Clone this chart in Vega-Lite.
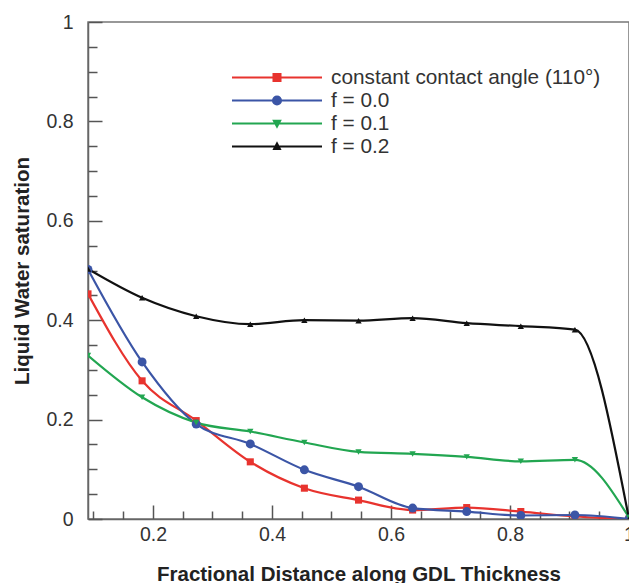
{
  "$schema": "https://vega.github.io/schema/vega-lite/v6.json",
  "width": 541,
  "height": 497,
  "autosize": "none",
  "padding": {"left": 88, "top": 22, "right": 0, "bottom": 64},
  "background": "white",
  "config": {
    "view": {"stroke": "#777", "strokeWidth": 1.5},
    "font": "Liberation Sans",
    "axis": {"grid": false}
  },
  "data": {
    "values": [
      {"x": 0.0909, "s": 0.453, "series": "constant contact angle (110°)"},
      {"x": 0.1818, "s": 0.278, "series": "constant contact angle (110°)"},
      {"x": 0.2727, "s": 0.198, "series": "constant contact angle (110°)"},
      {"x": 0.3636, "s": 0.115, "series": "constant contact angle (110°)"},
      {"x": 0.4545, "s": 0.062, "series": "constant contact angle (110°)"},
      {"x": 0.5455, "s": 0.038, "series": "constant contact angle (110°)"},
      {"x": 0.6364, "s": 0.018, "series": "constant contact angle (110°)"},
      {"x": 0.7273, "s": 0.023, "series": "constant contact angle (110°)"},
      {"x": 0.8182, "s": 0.015, "series": "constant contact angle (110°)"},
      {"x": 0.9091, "s": 0.005, "series": "constant contact angle (110°)"},
      {"x": 1.0, "s": 0.0, "series": "constant contact angle (110°)"},
      {"x": 0.0909, "s": 0.502, "series": "f = 0.0"},
      {"x": 0.1818, "s": 0.316, "series": "f = 0.0"},
      {"x": 0.2727, "s": 0.191, "series": "f = 0.0"},
      {"x": 0.3636, "s": 0.151, "series": "f = 0.0"},
      {"x": 0.4545, "s": 0.099, "series": "f = 0.0"},
      {"x": 0.5455, "s": 0.065, "series": "f = 0.0"},
      {"x": 0.6364, "s": 0.022, "series": "f = 0.0"},
      {"x": 0.7273, "s": 0.015, "series": "f = 0.0"},
      {"x": 0.8182, "s": 0.007, "series": "f = 0.0"},
      {"x": 0.9091, "s": 0.008, "series": "f = 0.0"},
      {"x": 1.0, "s": 0.0, "series": "f = 0.0"},
      {"x": 0.0909, "s": 0.329, "series": "f = 0.1"},
      {"x": 0.1818, "s": 0.245, "series": "f = 0.1"},
      {"x": 0.2727, "s": 0.194, "series": "f = 0.1"},
      {"x": 0.3636, "s": 0.176, "series": "f = 0.1"},
      {"x": 0.4545, "s": 0.154, "series": "f = 0.1"},
      {"x": 0.5455, "s": 0.135, "series": "f = 0.1"},
      {"x": 0.6364, "s": 0.131, "series": "f = 0.1"},
      {"x": 0.7273, "s": 0.125, "series": "f = 0.1"},
      {"x": 0.8182, "s": 0.116, "series": "f = 0.1"},
      {"x": 0.9091, "s": 0.119, "series": "f = 0.1"},
      {"x": 1.0, "s": 0.003, "series": "f = 0.1"},
      {"x": 0.0909, "s": 0.503, "series": "f = 0.2"},
      {"x": 0.1818, "s": 0.445, "series": "f = 0.2"},
      {"x": 0.2727, "s": 0.408, "series": "f = 0.2"},
      {"x": 0.3636, "s": 0.392, "series": "f = 0.2"},
      {"x": 0.4545, "s": 0.400, "series": "f = 0.2"},
      {"x": 0.5455, "s": 0.399, "series": "f = 0.2"},
      {"x": 0.6364, "s": 0.404, "series": "f = 0.2"},
      {"x": 0.7273, "s": 0.394, "series": "f = 0.2"},
      {"x": 0.8182, "s": 0.388, "series": "f = 0.2"},
      {"x": 0.9091, "s": 0.381, "series": "f = 0.2"},
      {"x": 1.0, "s": 0.0, "series": "f = 0.2"}
    ]
  },
  "resolve": {"axis": {"x": "independent", "y": "independent"}},
  "layer": [
    {
      "mark": {"type": "line", "interpolate": "monotone", "strokeWidth": 2.2, "clip": true},
      "encoding": {
        "x": {
          "field": "x", "type": "quantitative",
          "scale": {"domain": [0.0909, 1.0], "nice": false, "zero": false},
          "axis": {
            "orient": "bottom",
            "title": "Fractional Distance along GDL Thickness",
            "titleFontSize": 20.5, "titleFontWeight": "bold", "titleColor": "#222",
            "titleY": 61, "titleBaseline": "alphabetic",
            "values": [0.2, 0.4, 0.6, 0.8, 1.0],
            "format": ".1~f",
            "labelFontSize": 19.5, "labelColor": "#333", "labelPadding": 20,
            "labelFlush": false, "labelOverlap": false,
            "tickSize": -14, "tickColor": "#555", "tickWidth": 1.5,
            "domainColor": "#666", "domainWidth": 1.5
          }
        },
        "y": {
          "field": "s", "type": "quantitative",
          "scale": {"domain": [0, 1], "nice": false},
          "axis": {
            "orient": "left",
            "title": "Liquid Water saturation",
            "titleFontSize": 20.5, "titleFontWeight": "bold", "titleColor": "#222",
            "titleX": -60, "titleBaseline": "alphabetic",
            "values": [0, 0.2, 0.4, 0.6, 0.8, 1.0],
            "format": ".1~f",
            "labelFontSize": 19.5, "labelColor": "#333", "labelPadding": 29,
            "labelFlush": false, "labelOverlap": false,
            "tickSize": -14, "tickColor": "#555", "tickWidth": 1.5,
            "domainColor": "#666", "domainWidth": 1.5
          }
        },
        "color": {
          "field": "series", "type": "nominal",
          "scale": {
            "domain": ["constant contact angle (110°)", "f = 0.0", "f = 0.1", "f = 0.2"],
            "range": ["#e8332e", "#3b55a6", "#22a651", "#111111"]
          },
          "legend": {
            "title": null,
            "orient": "none",
            "legendX": 143,
            "legendY": 46,
            "padding": 0,
            "symbolSize": 8100,
            "symbolStrokeWidth": 2,
            "clipHeight": 19,
            "rowPadding": 1,
            "labelFontSize": 20.8,
            "labelColor": "#333",
            "labelOffset": 8,
            "labelLimit": 400,
            "encode": {
              "symbols": {
                "update": {
                  "shape": {"signal": "datum.value == 'f = 0.0' ? 'M-1,0H1M-0.09,0A0.09,0.09 0 1,0 0.09,0A0.09,0.09 0 1,0 -0.09,0Z' : datum.value == 'f = 0.1' ? 'M-1,0H1M-0.07,-0.06L0.07,-0.06L0,0.07Z' : datum.value == 'f = 0.2' ? 'M-1,0H1M-0.065,0.055L0.065,0.055L0,-0.07Z' : 'M-1,0H1M-0.078,-0.078H0.078V0.078H-0.078Z'"},
                  "fill": {"scale": "color", "field": "value"},
                  "stroke": {"scale": "color", "field": "value"},
                  "strokeWidth": {"value": 2},
                  "opacity": {"value": 1}
                }
              }
            }
          }
        }
      }
    },
    {
      "transform": [{"filter": "datum.series == 'constant contact angle (110°)'"}],
      "mark": {"type": "point", "shape": "square", "size": 50, "filled": true, "opacity": 1, "color": "#e8332e", "clip": true},
      "encoding": {
        "x": {
          "field": "x", "type": "quantitative",
          "axis": {
            "orient": "bottom", "title": null, "labels": false, "domain": false,
            "values": [0.1, 0.15, 0.25, 0.3, 0.35, 0.45, 0.5, 0.55, 0.65, 0.7, 0.75, 0.85, 0.9, 0.95],
            "tickSize": -8, "tickColor": "#555", "tickWidth": 1.5
          }
        },
        "y": {
          "field": "s", "type": "quantitative",
          "axis": {
            "orient": "left", "title": null, "labels": false, "domain": false,
            "values": [0.05, 0.1, 0.15, 0.25, 0.3, 0.35, 0.45, 0.5, 0.55, 0.65, 0.7, 0.75, 0.85, 0.9, 0.95],
            "tickSize": -9, "tickColor": "#555", "tickWidth": 1.5
          }
        }
      }
    },
    {
      "transform": [{"filter": "datum.series == 'f = 0.0'"}],
      "mark": {"type": "point", "shape": "circle", "size": 80, "filled": true, "opacity": 1, "color": "#3b55a6", "clip": true},
      "encoding": {
        "x": {"field": "x", "type": "quantitative", "axis": null},
        "y": {"field": "s", "type": "quantitative", "axis": null}
      }
    },
    {
      "transform": [{"filter": "datum.series == 'f = 0.1'"}],
      "mark": {"type": "point", "shape": "triangle-down", "size": 40, "filled": true, "opacity": 1, "color": "#22a651", "clip": true},
      "encoding": {
        "x": {"field": "x", "type": "quantitative", "axis": null},
        "y": {"field": "s", "type": "quantitative", "axis": null}
      }
    },
    {
      "transform": [{"filter": "datum.series == 'f = 0.2'"}],
      "mark": {"type": "point", "shape": "triangle-up", "size": 40, "filled": true, "opacity": 1, "color": "#111111", "clip": true},
      "encoding": {
        "x": {"field": "x", "type": "quantitative", "axis": null},
        "y": {"field": "s", "type": "quantitative", "axis": null}
      }
    }
  ]
}
